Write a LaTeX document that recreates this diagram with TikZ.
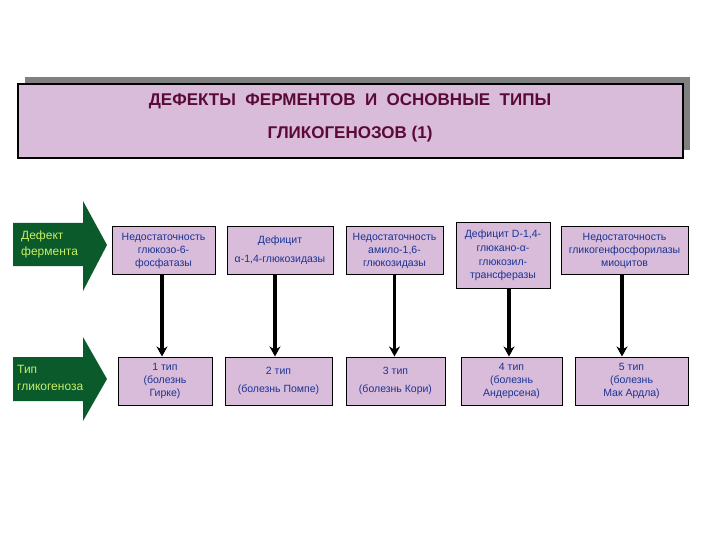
\documentclass[tikz,border=0pt]{standalone}
\usepackage{fontspec}
\setmainfont{Liberation Sans}
\usetikzlibrary{arrows.meta}
\definecolor{boxfill}{HTML}{D9BBDA}
\definecolor{shadowgray}{HTML}{808080}
\definecolor{titletext}{HTML}{5A0A35}
\definecolor{boxtext}{HTML}{1A3494}
\definecolor{arrowgreen}{HTML}{0B5A2B}
\definecolor{arrowtext}{HTML}{C8EE66}
\tikzset{
  ebox/.style={draw=black, line width=1pt, fill=boxfill, text=boxtext, align=center,
    inner sep=1pt, font=\fontsize{10.5}{13}\selectfont},
  conn/.style={line width=3.6pt, -{Stealth[length=10pt,width=11pt]}},
  greenarrow/.style={fill=arrowgreen, draw=none},
  greentext/.style={text=arrowtext, align=left, anchor=west, inner sep=0pt, font=\fontsize{12}{16.5}\selectfont}
}
\begin{document}
\begin{tikzpicture}[x=1pt,y=-1pt]
\useasboundingbox (0,0) rectangle (720,540);
% title
\fill[shadowgray] (25,77) rectangle (690,150);
\node[draw=black, line width=1.2pt, fill=boxfill, minimum width=665pt, minimum height=74pt, inner sep=0pt] (title) at (350.5,121) {};
\node[text=titletext, font=\bfseries\fontsize{17}{17}\selectfont] (t1) at (350,101) {ДЕФЕКТЫ\ \ ФЕРМЕНТОВ\ \ И\ \ ОСНОВНЫЕ\ \ ТИПЫ};
\node[text=titletext, font=\bfseries\fontsize{17}{17}\selectfont] (t2) at (350,134) {ГЛИКОГЕНОЗОВ (1)};
% green arrows
\fill[greenarrow] (13,223) -- (83,223) -- (83,201) -- (107,245) -- (83,291) -- (83,266) -- (13,266) -- cycle;
\node[greentext] (g1) at (21,244.5) {Дефект\\фермента};
\fill[greenarrow] (13,357) -- (83,357) -- (83,337) -- (107,379) -- (83,421) -- (83,401) -- (13,401) -- cycle;
\node[greentext] (g2) at (17,378) {Тип\\гликогеноза};
% top boxes
\node[ebox, minimum width=103pt, minimum height=47pt] (a1) at (163.5,250.5) {Недостаточность\\глюкозо-6-\\фосфатазы};
\node[ebox, minimum width=106pt, minimum height=47pt, font=\fontsize{10.5}{19}\selectfont] (a2) at (280,250.5) {Дефицит\\α-1,4-глюкозидазы};
\node[ebox, minimum width=97pt, minimum height=47pt] (a3) at (394.5,250.5) {Недостаточность\\амило-1,6-\\глюкозидазы};
\node[ebox, minimum width=94pt, minimum height=65pt, font=\fontsize{10.5}{13.7}\selectfont] (a4) at (503,255.5) {Дефицит D-1,4-\\глюкано-α-\\глюкозил-\\трансферазы};
\node[ebox, minimum width=127pt, minimum height=47pt] (a5) at (624.5,250.5) {Недостаточность\\гликогенфосфорилазы\\миоцитов};
% bottom boxes
\node[ebox, minimum width=94pt, minimum height=48pt] (b1) at (165,381) {1 тип\\(болезнь\\Гирке)};
\node[ebox, minimum width=107pt, minimum height=48pt, font=\fontsize{10.5}{18}\selectfont] (b2) at (278.5,381) {2 тип\\(болезнь Помпе)};
\node[ebox, minimum width=99pt, minimum height=48pt, font=\fontsize{10.5}{18}\selectfont] (b3) at (395.5,381) {3 тип\\(болезнь Кори)};
\node[ebox, minimum width=101pt, minimum height=48pt] (b4) at (511.5,381) {4 тип\\(болезнь\\Андерсена)};
\node[ebox, minimum width=113pt, minimum height=48pt] (b5) at (631.5,381) {5 тип\\(болезнь\\Мак Ардла)};
% connectors
\draw[conn] ([xshift=-1.5pt]a1.south) -- ([xshift=-1.5pt]a1.south |- b1.north);
\draw[conn] ([xshift=-5pt]a2.south) -- ([xshift=-5pt]a2.south |- b2.north);
\draw[conn] (a3.south) -- (a3.south |- b3.north);
\draw[conn] ([xshift=6pt]a4.south) -- ([xshift=6pt]a4.south |- b4.north);
\draw[conn] ([xshift=-2.5pt]a5.south) -- ([xshift=-2.5pt]a5.south |- b5.north);
\end{tikzpicture}
\end{document}
